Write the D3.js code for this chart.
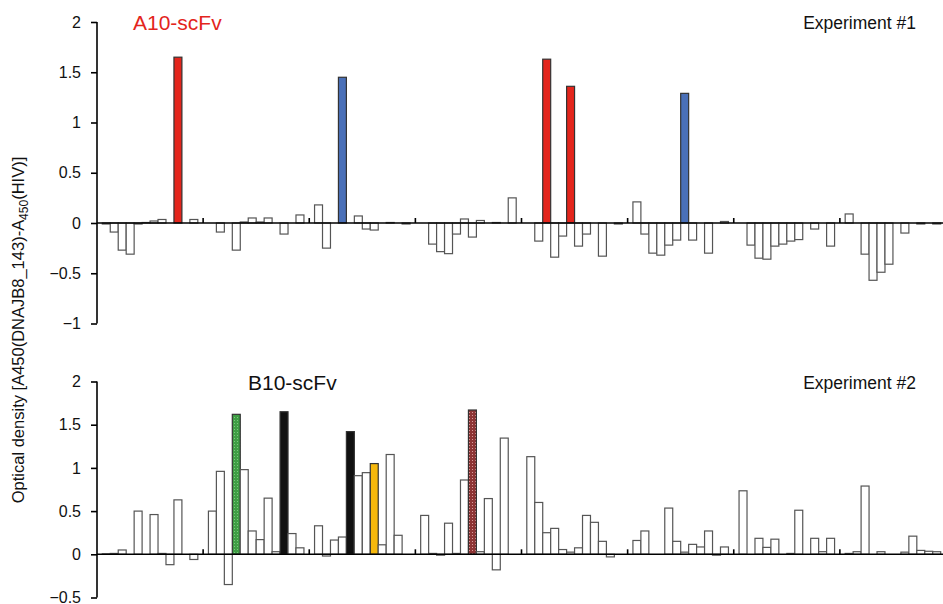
<!DOCTYPE html>
<html>
<head>
<meta charset="utf-8">
<script src="https://cdn.jsdelivr.net/npm/d3@7"></script>
<style>
  body { margin: 0; background: #fff; }
  text { font-family: "Liberation Sans", Arial, sans-serif; }
</style>
</head>
<body>
<div id="chart"></div>
<script>
// 96-well plate, 8 rows (groups) x 12 wells
const rows = ["A", "B", "C", "D", "E", "F", "G", "H"]
const wells = d3.range(12)

const exp1 = [
  -0.01, -0.09, -0.27, -0.31, -0.01, 0.005, 0.02, 0.035, 0, 1.65, 0, 0.035,
  0, -0.09, 0, -0.27, 0.01, 0.05, 0.01, 0.05, 0, -0.11, 0, 0.08,
  0.18, -0.25, 0, 1.45, 0, 0.07, -0.06, -0.07, 0, 0.005, 0, -0.01,
  0, -0.21, -0.285, -0.305, -0.11, 0.04, -0.14, 0.025, 0, 0.005, 0, 0.25,
  0, -0.18, 1.63, -0.34, -0.13, 1.36, -0.23, -0.11, 0, -0.33, 0, -0.01,
  0.21, -0.11, -0.30, -0.32, -0.22, -0.17, 1.29, -0.17, 0, -0.30, 0, 0.015,
  0, -0.22, -0.35, -0.36, -0.23, -0.21, -0.18, -0.165, 0, -0.06, 0, -0.23,
  0.09, 0, -0.31, -0.57, -0.49, -0.41, 0, -0.10, 0, -0.01, 0, -0.01
]
const exp2 = [
  0.005, 0.01, 0.05, 0, 0.5, 0, 0.46, 0.01, -0.12, 0.63, 0, -0.06,
  0.5, 0.96, -0.35, 1.62, 0.98, 0.27, 0.17, 0.65, 0.03, 1.65, 0.24, 0.075,
  0.33, -0.02, 0.165, 0.2, 1.42, 0.91, 0.945, 1.05, 0.11, 1.155, 0.22, 0,
  0.45, 0.01, -0.01, 0.36, 0.01, 0.86, 1.67, 0.03, 0.645, -0.18, 1.345, 0,
  1.13, 0.60, 0.25, 0.30, 0.055, 0.025, 0.075, 0.45, 0.37, 0.15, -0.03, 0,
  0.16, 0.27, 0, 0, 0.535, 0.15, 0.025, 0.115, 0.085, 0.27, -0.01, 0.085,
  0.735, 0, 0.185, 0.08, 0.175, 0, 0.01, 0.51, 0, 0.185, 0.03, 0.185,
  0.01, 0.03, 0.79, 0, 0.03, 0, 0, 0.025, 0.21, 0.045, 0.035, 0.03
]
// highlighted wells: index -> fill
const hits1 = { 9: "red", 27: "blue", 50: "red", 53: "red", 66: "blue" }
const hits2 = { 15: "green", 21: "black", 28: "black", 31: "yellow", 42: "dots" }

const ticks1 = [2, 1.5, 1, 0.5, 0, -0.5, -1]
const ticks2 = [2, 1.5, 1, 0.5, 0, -0.5]

const fills = {
  red: "#e3251c",
  blue: "#4a70b8",
  green: "url(#greenDots)",
  black: "#111111",
  yellow: "#f6b80c",
  dots: "url(#redDots)"
}

const svg = d3.select("#chart").append("svg")
  .attr("width", 943)
  .attr("height", 604)

const defs = svg.append("defs")
const pg = defs.append("pattern").attr("id", "greenDots")
  .attr("width", 3).attr("height", 3).attr("patternUnits", "userSpaceOnUse")
pg.append("rect").attr("width", 3).attr("height", 3).attr("fill", "#3f9e45")
pg.append("rect").attr("width", 1).attr("height", 1).attr("fill", "#7cc77e")
const pr = defs.append("pattern").attr("id", "redDots")
  .attr("width", 3).attr("height", 3).attr("patternUnits", "userSpaceOnUse")
pr.append("rect").attr("width", 3).attr("height", 3).attr("fill", "#8e3434")
pr.append("rect").attr("x", 1).attr("y", 1).attr("width", 1).attr("height", 1).attr("fill", "#d99a9a")

const xGroup = d3.scaleBand().domain(rows).range([97, 946])
const xWell = d3.scaleBand().domain(wells).range([5.3, xGroup.bandwidth() - 5.3])

function panel(values, hits, yScale, tickVals, title, titleColor, titleX, exp) {
  const g = svg.append("g")
  const data = values.map((v, i) => ({ v: v, i: i, row: rows[Math.floor(i / 12)], well: i % 12 }))

  g.selectAll("rect.bar")
    .data(data)
    .join("rect")
    .attr("class", "bar")
    .attr("x", d => xGroup(d.row) + xWell(d.well))
    .attr("width", xWell.bandwidth())
    .attr("y", d => yScale(Math.max(0, d.v)))
    .attr("height", d => Math.abs(yScale(d.v) - yScale(0)))
    .attr("fill", d => hits[d.i] ? fills[hits[d.i]] : "#fff")
    .attr("stroke", d => hits[d.i] ? "#333" : "#555")
    .attr("stroke-width", 1.2)

  // zero line with small ticks between plate rows
  g.append("line")
    .attr("x1", 97).attr("x2", 943)
    .attr("y1", yScale(0)).attr("y2", yScale(0))
    .attr("stroke", "#000").attr("stroke-width", 1.6)
  g.selectAll("line.sep")
    .data(rows.slice(1))
    .join("line")
    .attr("class", "sep")
    .attr("x1", d => xGroup(d)).attr("x2", d => xGroup(d))
    .attr("y1", yScale(0)).attr("y2", yScale(0) - 5)
    .attr("stroke", "#000").attr("stroke-width", 1.6)

  const axis = g.append("g")
    .attr("transform", "translate(97,0)")
    .call(d3.axisLeft(yScale).tickValues(tickVals).tickSize(6).tickPadding(10)
      .tickFormat(d => d < 0 ? "\u2212" + Math.abs(d) : d))
  axis.select(".domain").attr("stroke-width", 1.6).attr("d", "M0," + yScale(tickVals[0]) + "V" + yScale(tickVals[tickVals.length - 1]))
  axis.selectAll(".tick line").attr("stroke-width", 1.6)
  axis.selectAll(".tick text")
    .style("font-family", "'Liberation Sans', Arial, sans-serif")
    .style("font-size", "16px")
    .attr("fill", "#111")

  g.append("text")
    .attr("x", titleX).attr("y", yScale(2) + 8)
    .attr("fill", titleColor)
    .style("font-size", "21px")
    .text(title)
  g.append("text")
    .attr("x", 916).attr("y", yScale(2) + 7)
    .attr("text-anchor", "end")
    .attr("fill", "#111")
    .style("font-size", "17.5px")
    .text(exp)
}

const y1 = d3.scaleLinear().domain([-1, 2]).range([323.5, 22])
const y2 = d3.scaleLinear().domain([-0.5, 2]).range([597.5, 381.5])

panel(exp1, hits1, y1, ticks1, "A10-scFv", "#e3251c", 133, "Experiment #1")
panel(exp2, hits2, y2, ticks2, "B10-scFv", "#111", 248, "Experiment #2")

const ylab = svg.append("text")
  .attr("transform", "translate(24,330) rotate(-90)")
  .attr("text-anchor", "middle")
  .attr("fill", "#111")
  .style("font-size", "16.5px")
ylab.append("tspan").text("Optical density [A450(DNAJB8_143)-A")
ylab.append("tspan").attr("dy", 4).style("font-size", "12px").text("450")
ylab.append("tspan").attr("dy", -4).text("(HIV)]")
</script>
</body>
</html>
